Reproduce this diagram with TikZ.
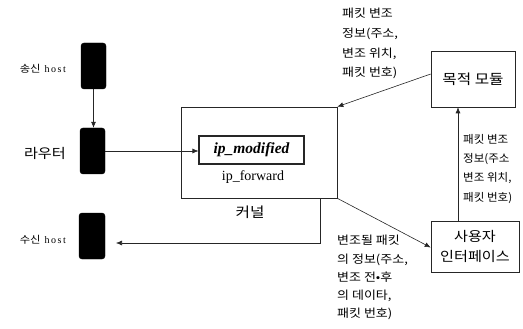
\documentclass[tikz,border=0pt]{standalone}
\usepackage{fontspec}
\setmainfont{Liberation Serif}
\newfontfamily\kr{Noto Sans CJK KR}
\newfontfamily\krs[FakeStretch=1.13]{Noto Sans CJK KR}
\newfontfamily\krt[FakeStretch=1.05]{Noto Sans CJK KR}
\newfontfamily\krb[FakeStretch=1.12]{Noto Sans CJK KR}
\newfontfamily\hostfont[LetterSpace=15]{Liberation Serif}
\usetikzlibrary{arrows.meta}
\begin{document}
\begin{tikzpicture}[x=1pt,y=-1pt,
  hostbox/.style={draw=black,fill=black,rounded corners=3pt,minimum width=25pt,minimum height=46pt,inner sep=0pt},
  plainbox/.style={draw=black!85,line width=0.6pt,inner sep=0pt,align=center},
  conn/.style={draw=black!85,line width=0.6pt},
  arr/.style={conn,-{Latex[length=6pt,width=5pt]}},
  lbl/.style={inner sep=0pt,anchor=north west,align=left},
]
\useasboundingbox (0,0) rectangle (523,329);
% hosts
\node[hostbox] (snd) at (93.5,66) {};
\node[hostbox] (rtr) at (92.5,151) {};
\node[hostbox,minimum width=26pt] (rcv) at (92,236) {};
\node[anchor=east,inner sep=0pt,font=\fontsize{10}{12}\selectfont] (sndl) at (66,69) {{\krs 송신}\hspace{4pt}{\hostfont host}};
\node[anchor=east,inner sep=0pt,font=\fontsize{13.5}{16}\selectfont\krb] (rtrl) at (66,153) {라우터};
\node[anchor=east,inner sep=0pt,font=\fontsize{10}{12}\selectfont] (rcvl) at (66,240) {{\krs 수신}\hspace{4pt}{\hostfont host}};
% kernel
\node[plainbox,minimum width=156pt,minimum height=91pt] (kern) at (259,152.5) {};
\node[plainbox,line width=1.1pt,minimum width=105pt,minimum height=28pt,font=\fontsize{15.5}{18}\selectfont\bfseries\itshape] (ipm) at (251.5,150) {ip\_modified};
\node[inner sep=0pt,font=\fontsize{14}{16}\selectfont] (ipf) at (253,177) {ip\_forward};
\node[inner sep=0pt,font=\fontsize{14}{16}\selectfont\krb] (kl) at (250,212) {커널};
% modules
\node[plainbox,minimum width=84pt,minimum height=56pt,font=\fontsize{14}{15}\selectfont\krb] (tm) at (473,79) {목적 모듈};
\node[plainbox,minimum width=88pt,minimum height=51pt,font=\fontsize{13.5}{20}\selectfont\krb] (ui) at (475,246.5) {사용자\\인터페이스};
% connectors
\draw[arr] (snd.south) -- (snd.south |- rtr.north);
\draw[arr] (rtr.east) -- (rtr.east -| ipm.west);
\draw[arr] ([yshift=5pt]tm.west) -- (kern.north east);
\coordinate (uitop) at ([xshift=-17pt]ui.north);
\draw[arr] (uitop) -- (uitop |- tm.south);
\draw[arr] (kern.south east) -- ([yshift=-1pt]ui.west);
\coordinate (kdown) at ([xshift=61pt]kern.south);
\coordinate (rcvend) at (116,243);
\draw[arr] (kdown) -- (kdown |- rcvend) -- (rcvend);
% labels
\node[lbl,font=\fontsize{11.5}{19.7}\selectfont\krs] (l1) at (342,8) {패킷 변조\\정보(주소,\\변조 위치,\\패킷 번호)};
\node[lbl,font=\fontsize{11}{19.3}\selectfont\krt] (l2) at (463,134) {패킷 변조\\정보(주소\\변조 위치,\\패킷 번호)};
\node[lbl,font=\fontsize{11.5}{18.3}\selectfont\krs] (l3) at (337,235) {변조될 패킷\\의 정보(주소,\\변조 전•후\\의 데이타,\\패킷 번호)};
\end{tikzpicture}
\end{document}
